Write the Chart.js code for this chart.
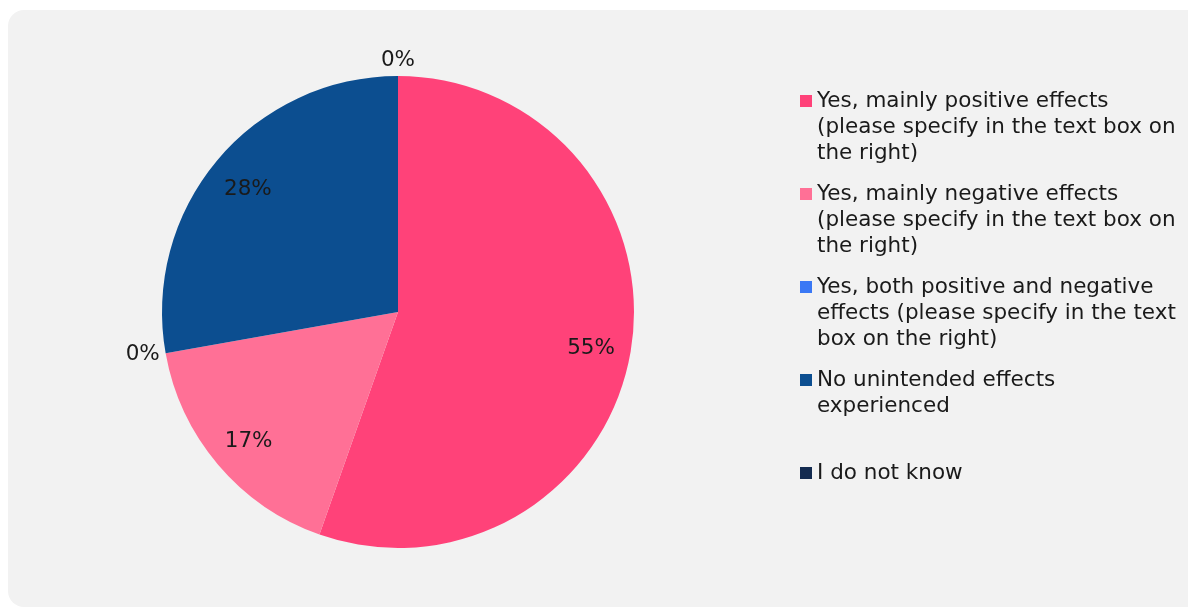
<!DOCTYPE html>
<html>
<head>
<meta charset="utf-8">
<script src="https://cdn.jsdelivr.net/npm/chart.js@4.4.0/dist/chart.umd.min.js"></script>
<style>
  html, body { margin: 0; padding: 0; background: #fff; overflow: hidden; }
  #panel {
    position: absolute; left: 8px; top: 10px; width: 1200px; height: 597px;
    background: #f2f2f2; border-radius: 16px;
  }
  #wrap { position: absolute; left: 0; top: 0; width: 1188px; height: 608px; }
  #legend {
    position: absolute; left: 800px; top: 87px;
    font-family: "DejaVu Sans", Verdana, sans-serif; font-size: 21.5px; color: #1a1a1a;
  }
  .item { position: relative; height: 93px; padding-left: 17px; line-height: 26px; white-space: nowrap; }
  .box { position: absolute; left: 0; top: 8px; width: 12px; height: 12px; }
</style>
</head>
<body>
<div id="panel"></div>
<div id="wrap"><canvas id="pie" width="1188" height="608"></canvas></div>
<div id="legend"></div>
<script>
// Unintended effects survey pie
const categories = [
  ['Yes, mainly positive effects', '(please specify in the text box on', 'the right)'],
  ['Yes, mainly negative effects', '(please specify in the text box on', 'the right)'],
  ['Yes, both positive and negative', 'effects (please specify in the text', 'box on the right)'],
  ['No unintended effects', 'experienced'],
  ['I do not know']
];
const shares = [55.4, 16.8, 0, 27.8, 0];
const colors = ['#ff4279', '#ff7096', '#3a78f5', '#0c4e90', '#142b50'];

const FONT = '"DejaVu Sans", Verdana, sans-serif';

const pieLabels = {
  id: 'pieLabels',
  afterDatasetsDraw(chart) {
    const ctx = chart.ctx;
    const meta = chart.getDatasetMeta(0);
    ctx.save();
    ctx.font = '21.5px ' + FONT;
    ctx.fillStyle = '#1a1a1a';
    meta.data.forEach((arc, i) => {
      const txt = Math.round(shares[i]) + '%';
      const mid = (arc.startAngle + arc.endAngle) / 2;
      const R = arc.outerRadius;
      const dx = Math.cos(mid), dy = Math.sin(mid);
      if (shares[i] > 0) {
        ctx.textAlign = 'center';
        ctx.textBaseline = 'middle';
        ctx.fillText(txt, arc.x + dx * R * 0.83, arc.y + dy * R * 0.83 + 3);
      } else {
        // outside end
        const r = R + 6;
        ctx.textAlign = Math.abs(dx) < 0.3 ? 'center' : (dx < 0 ? 'right' : 'left');
        ctx.textBaseline = dy < -0.3 ? 'bottom' : (dy > 0.3 ? 'top' : 'middle');
        ctx.fillText(txt, arc.x + dx * r, arc.y + dy * r + (dy < -0.3 ? 1 : 0));
      }
    });
    ctx.restore();
  }
};

const chart = new Chart(document.getElementById('pie'), {
  type: 'pie',
  data: {
    labels: categories,
    datasets: [{
      data: shares,
      backgroundColor: colors,
      borderWidth: 0
    }]
  },
  options: {
    responsive: false,
    animation: false,
    layout: { padding: { left: 162, right: 554, top: 76, bottom: 60 } },
    plugins: {
      legend: { display: false },
      tooltip: { enabled: false }
    }
  },
  plugins: [pieLabels]
});

// html legend so the wrapped labels can sit in fixed slots
const legendEl = document.getElementById('legend');
categories.forEach((lines, i) => {
  const item = document.createElement('div');
  item.className = 'item';
  const box = document.createElement('span');
  box.className = 'box';
  box.style.background = colors[i];
  item.appendChild(box);
  lines.forEach((ln, j) => {
    if (j) item.appendChild(document.createElement('br'));
    item.appendChild(document.createTextNode(ln));
  });
  legendEl.appendChild(item);
});
</script>
</body>
</html>
